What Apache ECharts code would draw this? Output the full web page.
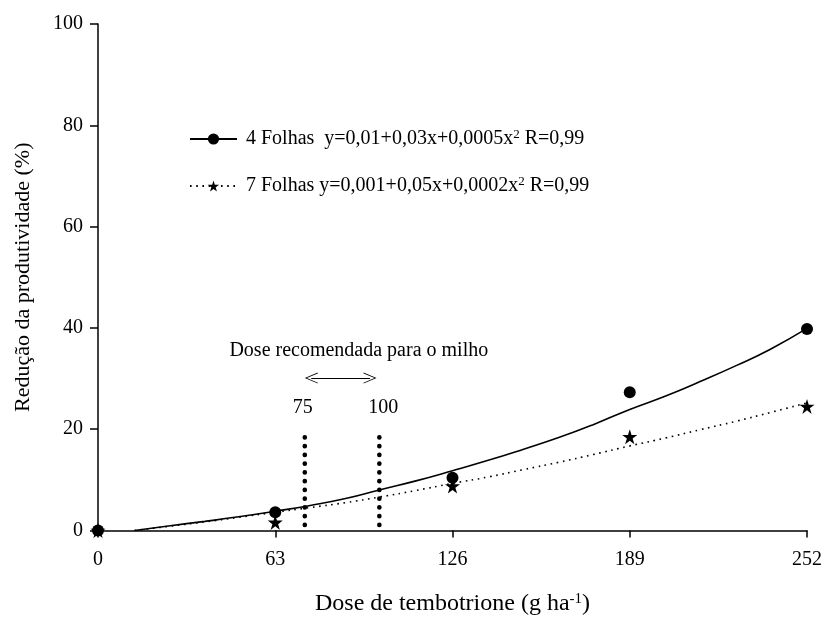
<!DOCTYPE html>
<html>
<head>
<meta charset="utf-8">
<script src="https://cdn.jsdelivr.net/npm/echarts@6/dist/echarts.min.js"></script>
<style>html,body{margin:0;padding:0;background:#fff}#c{width:825px;height:621px}</style>
</head>
<body>
<div id="c"></div>
<script>
// ---- data ----
const doses = [0, 63, 126, 189, 252];
const obs4 = [0, 3.6, 10.4, 27.3, 39.8];
const obs7 = [0, 1.6, 8.8, 18.5, 24.5];
const curveX = [13, 25, 38, 50, 63, 75, 88, 100, 113, 126, 139, 151, 164, 176, 189, 202, 214, 227, 239, 252];
const fit4 = [0, 0.9, 1.8, 2.7, 3.8, 4.9, 6.3, 8.0, 9.8, 11.8, 13.9, 16.0, 18.4, 20.9, 23.9, 26.6, 29.4, 32.6, 35.8, 39.9];
const fit7 = [0, 0.8, 1.7, 2.6, 3.6, 4.5, 5.5, 6.6, 7.9, 9.3, 10.6, 12.0, 13.5, 15.0, 16.7, 18.3, 19.9, 21.6, 23.3, 25.2];
const seriesNames = ['4 Folhas', '7 Folhas'];
const equations = ['  y=0,01+0,03x+0,0005x{sup|2} R=0,99', ' y=0,001+0,05x+0,0002x{sup|2} R=0,99'];
const recDoses = [73.5, 100];
const recLineY = [1.1, 18.4];
const arrowX = [75.8, 96.7];
const arrowY = 30.1;
const annotations = [
  {name: '75', value: [72.8, 24.2]},
  {name: '100', value: [101.4, 24.2]},
  {name: 'Dose recomendada para o milho', value: [92.7, 35.5]}
];
const xTicks = [0, 63, 126, 189, 252];

const FONT = 'Liberation Serif';
const starPath = 'path://M50,0 L61.2,34.5 L97.6,34.5 L68.2,55.9 L79.4,90.5 L50,69.1 L20.6,90.5 L31.8,55.9 L2.4,34.5 L38.8,34.5 Z';
const chevron = 'path://M0,10 L5,0 L10,10 L9.2,10 L5,1.6 L0.8,10 Z';

const zip = (xs, ys) => xs.map((x, i) => [x, ys[i]]);

const chart = echarts.init(document.getElementById('c'), null, {renderer: 'canvas'});
chart.setOption({
  backgroundColor: '#fff',
  animation: false,
  textStyle: {fontFamily: FONT, color: '#000'},
  grid: {left: 98, right: 17, top: 24, bottom: 87, containLabel: false},
  xAxis: {
    type: 'value', min: 0, max: 252, interval: 63,
    name: 'Dose de tembotrione (g ha{sup|-1})',
    nameLocation: 'middle', nameGap: 61,
    nameTextStyle: {fontFamily: FONT, fontSize: 24, color: '#000',
      rich: {sup: {fontFamily: FONT, fontSize: 15, color: '#000', padding: [0, 0, 10, 0]}}},
    axisLine: {show: true, lineStyle: {color: '#000', width: 1.5}},
    axisTick: {show: true, length: 7, lineStyle: {color: '#000', width: 1.5}},
    axisLabel: {fontFamily: FONT, fontSize: 20, color: '#000', margin: 19,
      customValues: xTicks},
    splitLine: {show: false}
  },
  yAxis: {
    type: 'value', min: 0, max: 100, interval: 20,
    name: 'Redução da produtividade (%)',
    nameLocation: 'middle', nameGap: 64,
    nameTextStyle: {fontFamily: FONT, fontSize: 22, color: '#000'},
    axisLine: {show: true, lineStyle: {color: '#000', width: 1.5}},
    axisTick: {show: true, length: 8, lineStyle: {color: '#000', width: 1.5}},
    axisLabel: {fontFamily: FONT, fontSize: 20, color: '#000', margin: 15},
    splitLine: {show: false}
  },
  legend: {
    show: true, orient: 'vertical', left: 184, top: 123,
    itemWidth: 47, itemHeight: 14, itemGap: 26,
    data: seriesNames,
    formatter: function (name) { return name + equations[seriesNames.indexOf(name)]; },
    textStyle: {fontFamily: FONT, fontSize: 20, color: '#000', padding: [0, 0, 0, 4],
      rich: {sup: {fontFamily: FONT, fontSize: 13, color: '#000', padding: [0, 0, 9, 0]}}}
  },
  series: [
    {
      name: '4 Folhas', type: 'line', data: zip(curveX, fit4), smooth: true,
      symbol: 'circle', showSymbol: false, symbolSize: 12,
      itemStyle: {color: '#000'},
      lineStyle: {color: '#000', width: 1.6, type: 'solid'},
      z: 3
    },
    {
      name: '7 Folhas', type: 'line', data: zip(curveX, fit7), smooth: true,
      symbol: starPath, showSymbol: false, symbolSize: 13,
      itemStyle: {color: '#000'},
      lineStyle: {color: '#000', width: 1.6, type: [1.6, 4.6]},
      z: 3
    },
    {
      name: 'obs4', type: 'scatter', data: zip(doses, obs4), symbol: 'circle', symbolSize: 12,
      itemStyle: {color: '#000', opacity: 1}, clip: false, z: 5
    },
    {
      name: 'obs7', type: 'scatter', data: zip(doses, obs7), symbol: starPath, symbolSize: 15,
      itemStyle: {color: '#000', opacity: 1}, clip: false, z: 5
    },
    ...recDoses.map((d, i) => ({
      name: 'rec' + i, type: 'line', data: recLineY.map(y => [d, y]),
      symbol: 'none', lineStyle: {color: '#000', width: 4.6, type: [0.1, 8.65], cap: 'round'}, z: 4
    })),
    {
      name: 'arrow', type: 'line', data: [],
      markLine: {
        silent: true, symbol: [chevron, chevron], symbolSize: [11, 13],
        lineStyle: {color: '#000', width: 1, type: 'solid'},
        label: {show: false},
        data: [[{coord: [arrowX[0], arrowY]}, {coord: [arrowX[1], arrowY]}]]
      }
    },
    {
      name: 'labels', type: 'scatter', data: annotations, symbolSize: 0, clip: false,
      itemStyle: {opacity: 1},
      label: {show: true, position: 'inside', formatter: '{b}', fontFamily: FONT, fontSize: 20, color: '#000', opacity: 1}
    }
  ]
});
</script>
</body>
</html>
